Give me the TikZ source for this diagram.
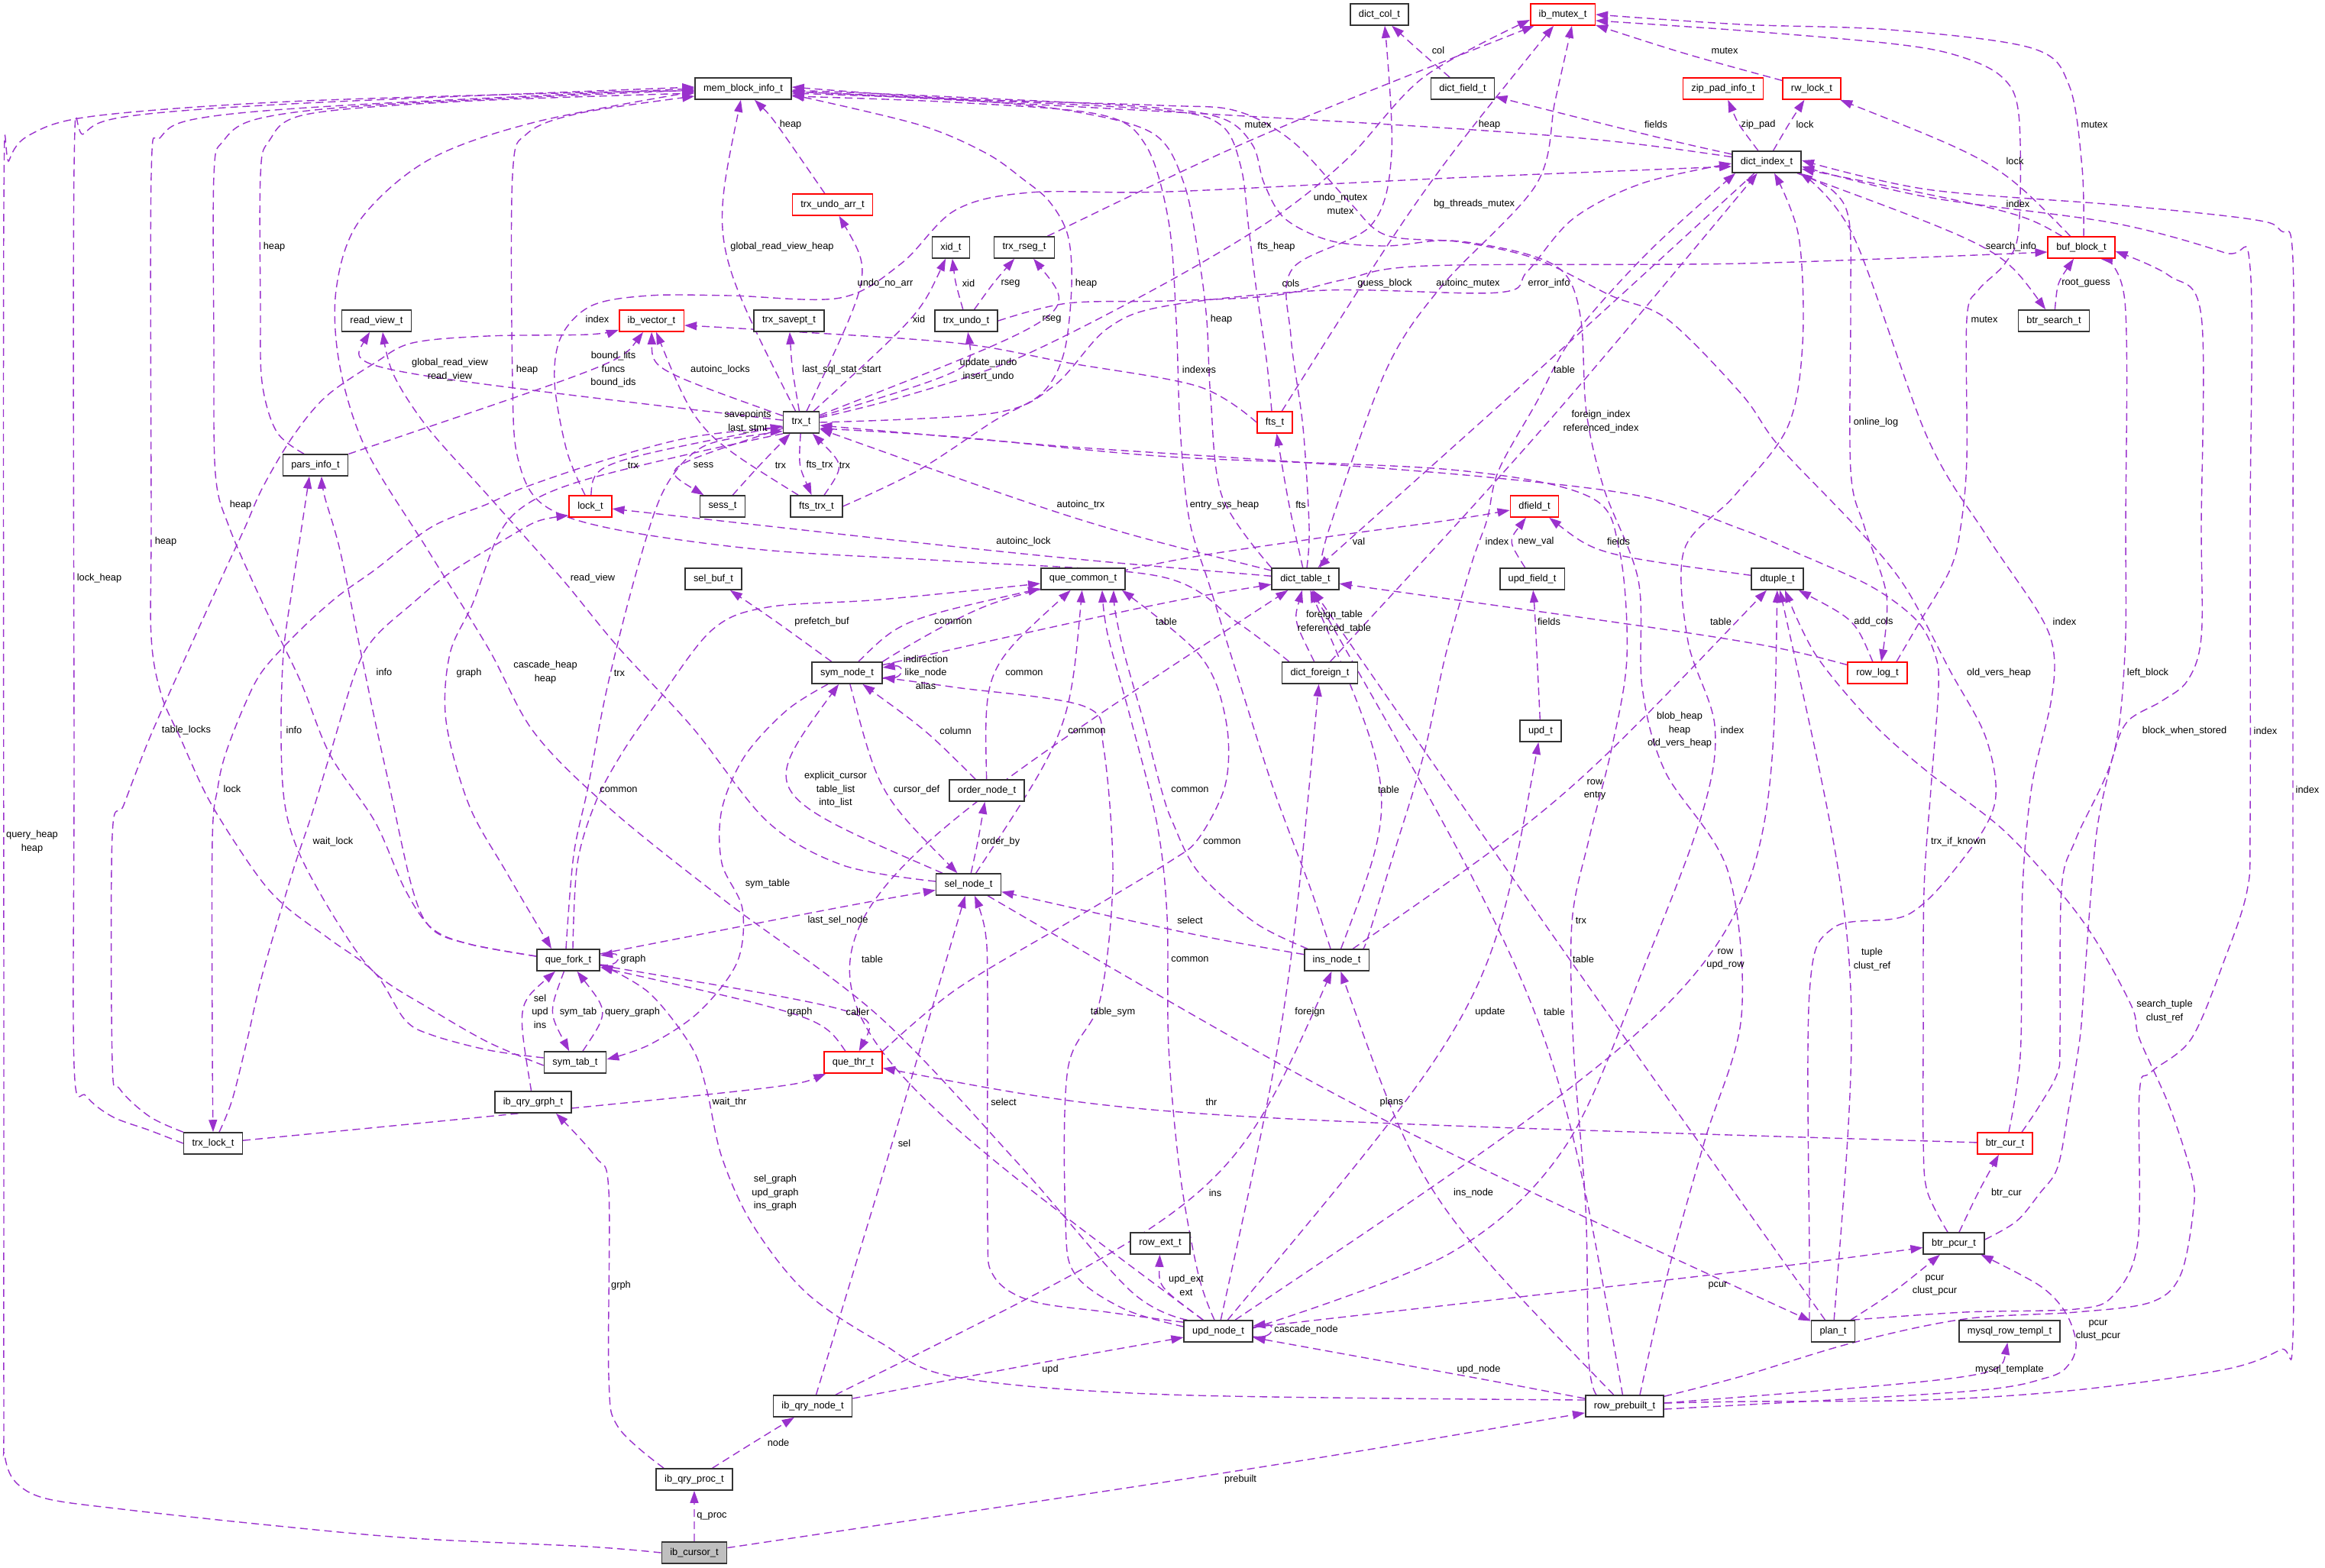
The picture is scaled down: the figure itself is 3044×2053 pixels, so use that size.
\documentclass[tikz,border=0pt]{standalone}
\usepackage{fontspec}
\setmainfont{Liberation Sans}
\usetikzlibrary{arrows.meta,calc}
\definecolor{edgec}{RGB}{154,50,205}
\newcommand\lblf{\fontsize{12.8}{17.5}\selectfont}
\pgfdeclarelayer{bg}
\pgfsetlayers{bg,main}
\newcommand\EDGE[4][]{\draw[ed,#1] (#2) .. controls ($1.3333*(#4)-0.16667*(#2)-0.16667*(#3)$) .. (#3);}
\newcommand\ROUTE[2][]{\draw[ed,#1] plot[smooth,tension=0.55] coordinates {#2};}
\begin{document}
\begin{tikzpicture}[x=1pt,y=-1pt,
  box/.style={draw=black!80, fill=white, line width=1.6pt, minimum height=28pt, inner xsep=11pt, inner ysep=0pt, font=\lblf},
  rbox/.style={box, draw=red},
  lab/.style={font=\lblf, align=center, inner sep=0pt},
  ed/.style={draw=edgec, line width=1.4pt, dash pattern=on 10pt off 6pt, -{Triangle[length=16pt,width=11pt]}}]
\useasboundingbox (0,0) rectangle (3044,2053);
% ---------- nodes ----------
\node[box] (mem) at (973,116) {mem\_block\_info\_t};
\node[rbox] (undoarr) at (1090,268) {trx\_undo\_arr\_t};
\node[box] (xid) at (1245,324) {xid\_t};
\node[box] (rseg) at (1341,324) {trx\_rseg\_t};
\node[box] (readview) at (493,420) {read\_view\_t};
\node[box] (parsinfo) at (413,609) {pars\_info\_t};
\node[rbox] (lock) at (773,663) {lock\_t};
\node[rbox] (ibvec) at (853,420) {ib\_vector\_t};
\node[box] (savept) at (1033,420) {trx\_savept\_t};
\node[box] (trxundo) at (1265,420) {trx\_undo\_t};
\node[box] (trx) at (1049,553) {trx\_t};
\node[box] (sess) at (946,663) {sess\_t};
\node[box] (ftstrx) at (1069,663) {fts\_trx\_t};
\node[box] (dictcol) at (1806,19) {dict\_col\_t};
\node[rbox] (mutex) at (2046,19) {ib\_mutex\_t};
\node[box] (dictfield) at (1915,116) {dict\_field\_t};
\node[rbox] (zippad) at (2256,116) {zip\_pad\_info\_t};
\node[box] (dictindex) at (2313,212) {dict\_index\_t};
\node[rbox] (fts) at (1669,553) {fts\_t};
\node[rbox] (dfield) at (2009,663) {dfield\_t};
\node[rbox] (rwlock) at (2372,116) {rw\_lock\_t};
\node[rbox] (bufblock) at (2725,324) {buf\_block\_t};
\node[box] (btrsearch) at (2689,420) {btr\_search\_t};
\node[box] (selbuf) at (934,758) {sel\_buf\_t};
\node[box] (quecommon) at (1418,758) {que\_common\_t};
\node[box] (symnode) at (1109,881) {sym\_node\_t};
\node[box] (ordernode) at (1292,1035) {order\_node\_t};
\node[box] (selnode) at (1268,1158) {sel\_node\_t};
\node[box] (quefork) at (744,1257) {que\_fork\_t};
\node[box] (dicttable) at (1709,758) {dict\_table\_t};
\node[box] (updfield) at (2006,758) {upd\_field\_t};
\node[box] (dictforeign) at (1728,881) {dict\_foreign\_t};
\node[box] (updt) at (2017,957) {upd\_t};
\node[box] (insnode) at (1750,1257) {ins\_node\_t};
\node[box] (dtuple) at (2327,758) {dtuple\_t};
\node[rbox] (rowlog) at (2458,881) {row\_log\_t};
\node[box] (symtab) at (753,1391) {sym\_tab\_t};
\node[box] (qrygrph) at (698,1443) {ib\_qry\_grph\_t};
\node[box] (trxlock) at (279,1497) {trx\_lock\_t};
\node[rbox] (quethr) at (1117,1391) {que\_thr\_t};
\node[box] (qrynode) at (1064,1841) {ib\_qry\_node\_t};
\node[box] (qryproc) at (909,1937) {ib\_qry\_proc\_t};
\node[box,fill=gray!50] (cursor) at (909,2033) {ib\_cursor\_t};
\node[box] (rowext) at (1519,1628) {row\_ext\_t};
\node[box] (updnode) at (1595,1743) {upd\_node\_t};
\node[box] (prebuilt) at (2127,1841) {row\_prebuilt\_t};
\node[rbox] (btrcur) at (2625,1497) {btr\_cur\_t};
\node[box] (btrpcur) at (2558,1628) {btr\_pcur\_t};
\node[box] (plan) at (2400,1743) {plan\_t};
\node[box] (mysqltempl) at (2631,1743) {mysql\_row\_templ\_t};
% ---------- labels ----------
\node[lab] (L1) at (359,323) {heap};
\node[lab] (L2) at (589,484) {global\_read\_view\\read\_view};
\node[lab] (L3) at (690,484) {heap};
\node[lab] (L4) at (315,661) {heap};
\node[lab] (L5) at (782,418) {index};
\node[lab] (L6) at (1035,163) {heap};
\node[lab] (L7) at (1024,323) {global\_read\_view\_heap};
\node[lab] (L8) at (1159,371) {undo\_no\_arr};
\node[lab] (L9) at (1268,371) {xid};
\node[lab] (L10) at (1323,371) {rseg};
\node[lab] (L11) at (1422,371) {heap};
\node[lab] (L12) at (1203,418) {xid};
\node[lab] (L13) at (1377,418) {rseg};
\node[lab] (L14) at (803,484) {bound\_lits\\funcs\\bound\_ids};
\node[lab] (L15) at (943,484) {autoinc\_locks};
\node[lab] (L16) at (1102,484) {last\_sql\_stat\_start};
\node[lab] (L17) at (1294,484) {update\_undo\\insert\_undo};
\node[lab] (L18) at (979,552) {savepoints\\last\_stmt};
\node[lab] (L19) at (829,609) {trx};
\node[lab] (L20) at (921,609) {sess};
\node[lab] (L21) at (1022,609) {trx};
\node[lab] (L22) at (1073,609) {fts\_trx};
\node[lab] (L23) at (1106,609) {trx};
\node[lab] (L24) at (1415,661) {autoinc\_trx};
\node[lab] (L25) at (1883,66) {col};
\node[lab] (L26) at (2258,66) {mutex};
\node[lab] (L27) at (1647,163) {mutex};
\node[lab] (L28) at (1950,163) {heap};
\node[lab] (L29) at (2168,163) {fields};
\node[lab] (L30) at (2302,163) {zip\_pad};
\node[lab] (L31) at (1755,267) {undo\_mutex\\mutex};
\node[lab] (L32) at (1930,267) {bg\_threads\_mutex};
\node[lab] (L33) at (1671,323) {fts\_heap};
\node[lab] (L34) at (1690,371) {cols};
\node[lab] (L35) at (1813,371) {guess\_block};
\node[lab] (L36) at (1922,371) {autoinc\_mutex};
\node[lab] (L37) at (2028,371) {error\_info};
\node[lab] (L38) at (1599,418) {heap};
\node[lab] (L39) at (1570,484) {indexes};
\node[lab] (L40) at (2048,484) {table};
\node[lab] (L41) at (2096,552) {foreign\_index\\referenced\_index};
\node[lab] (L42) at (1603,661) {entry\_sys\_heap};
\node[lab] (L43) at (1703,661) {fts};
\node[lab] (L44) at (2363,163) {lock};
\node[lab] (L45) at (2742,163) {mutex};
\node[lab] (L46) at (2638,211) {lock};
\node[lab] (L47) at (2642,267) {index};
\node[lab] (L48) at (2633,323) {search\_info};
\node[lab] (L49) at (2731,371) {root\_guess};
\node[lab] (L50) at (2598,418) {mutex};
\node[lab] (L51) at (2456,553) {online\_log};
\node[lab] (L52) at (217,709) {heap};
\node[lab] (L53) at (130,757) {lock\_heap};
\node[lab] (L54) at (503,880) {info};
\node[lab] (L55) at (614,881) {graph};
\node[lab] (L56) at (714,880) {cascade\_heap\\heap};
\node[lab] (L57) at (244,956) {table\_locks};
\node[lab] (L58) at (385,956) {info};
\node[lab] (L59) at (304,1033) {lock};
\node[lab] (L60) at (42,1102) {query\_heap\\heap};
\node[lab] (L61) at (436,1102) {wait\_lock};
\node[lab] (L62) at (707,1324) {sel\\upd\\ins};
\node[lab] (L63) at (757,1325) {sym\_tab};
\node[lab] (L64) at (776,757) {read\_view};
\node[lab] (L65) at (1340,709) {autoinc\_lock};
\node[lab] (L66) at (1076,814) {prefetch\_buf};
\node[lab] (L67) at (1248,814) {common};
\node[lab] (L68) at (1212,880) {indirection\\like\_node\\alias};
\node[lab] (L69) at (811,881) {trx};
\node[lab] (L70) at (1341,881) {common};
\node[lab] (L71) at (1251,957) {column};
\node[lab] (L72) at (1423,957) {common};
\node[lab] (L73) at (810,1034) {common};
\node[lab] (L74) at (1094,1034) {explicit\_cursor\\table\_list\\into\_list};
\node[lab] (L75) at (1200,1034) {cursor\_def};
\node[lab] (L76) at (1310,1102) {order\_by};
\node[lab] (L77) at (1005,1157) {sym\_table};
\node[lab] (L78) at (1097,1205) {last\_sel\_node};
\node[lab] (L79) at (829,1256) {graph};
\node[lab] (L80) at (1047,1325) {graph};
\node[lab] (L81) at (1123,1325) {caller};
\node[lab] (L82) at (828,1325) {query\_graph};
\node[lab] (L83) at (1142,1256) {table};
\node[lab] (L84) at (1457,1325) {table\_sym};
\node[lab] (L85) at (1527,814) {table};
\node[lab] (L86) at (1779,709) {val};
\node[lab] (L87) at (1960,709) {index};
\node[lab] (L88) at (2011,709) {new\_val};
\node[lab] (L89) at (2119,709) {fields};
\node[lab] (L90) at (1747,814) {foreign\_table\\referenced\_table};
\node[lab] (L91) at (2028,814) {fields};
\node[lab] (L92) at (2253,814) {table};
\node[lab] (L93) at (2199,956) {blob\_heap\\heap\\old\_vers\_heap};
\node[lab] (L94) at (2268,956) {index};
\node[lab] (L95) at (1818,1034) {table};
\node[lab] (L96) at (2088,1034) {row\\entry};
\node[lab] (L97) at (1558,1034) {common};
\node[lab] (L98) at (1600,1102) {common};
\node[lab] (L99) at (1558,1205) {select};
\node[lab] (L100) at (2070,1205) {trx};
\node[lab] (L101) at (1558,1256) {common};
\node[lab] (L102) at (2073,1256) {table};
\node[lab] (L103) at (2259,1256) {row\\upd\_row};
\node[lab] (L104) at (1715,1325) {foreign};
\node[lab] (L105) at (1951,1325) {update};
\node[lab] (L106) at (2035,1325) {table};
\node[lab] (L107) at (2453,814) {add\_cols};
\node[lab] (L108) at (2703,814) {index};
\node[lab] (L109) at (2617,881) {old\_vers\_heap};
\node[lab] (L110) at (2812,881) {left\_block};
\node[lab] (L111) at (2860,957) {block\_when\_stored};
\node[lab] (L112) at (2966,957) {index};
\node[lab] (L113) at (3021,1034) {index};
\node[lab] (L114) at (2564,1102) {trx\_if\_known};
\node[lab] (L115) at (2451,1256) {tuple\\clust\_ref};
\node[lab] (L116) at (2834,1324) {search\_tuple\\clust\_ref};
\node[lab] (L117) at (955,1443) {wait\_thr};
\node[lab] (L118) at (1314,1443) {select};
\node[lab] (L119) at (1184,1497) {sel};
\node[lab] (L120) at (1015,1562) {sel\_graph\\upd\_graph\\ins\_graph};
\node[lab] (L121) at (813,1683) {grph};
\node[lab] (L122) at (1375,1793) {upd};
\node[lab] (L123) at (1019,1889) {node};
\node[lab] (L124) at (932,1985) {q\_proc};
\node[lab] (L125) at (1586,1443) {thr};
\node[lab] (L126) at (1822,1443) {plans};
\node[lab] (L127) at (1591,1562) {ins};
\node[lab] (L128) at (1929,1562) {ins\_node};
\node[lab] (L129) at (2249,1683) {pcur};
\node[lab] (L130) at (1553,1683) {upd\_ext\\ext};
\node[lab] (L131) at (1710,1741) {cascade\_node};
\node[lab] (L132) at (1936,1793) {upd\_node};
\node[lab] (L133) at (1624,1937) {prebuilt};
\node[lab] (L134) at (2627,1562) {btr\_cur};
\node[lab] (L135) at (2533,1683) {pcur\\clust\_pcur};
\node[lab] (L136) at (2747,1742) {pcur\\clust\_pcur};
\node[lab] (L137) at (2631,1793) {mysql\_template};
% ---------- edges ----------
\begin{pgfonlayer}{bg}
\fill[white] (0,0) rectangle (3044,2053);
% long routed edges
\ROUTE{($(parsinfo.north)+(-15,0)$) (362,565) (343,500) (341,400) (341,230) (352,185) (400,150) (600,133) ($(mem.west)+(0,6)$)}
\ROUTE{($(dictforeign.north west)+(10,0)$) (1620,815) (1520,755) (1250,735) (1000,720) (800,692) (710,660) (678,600) (671,500) (671,230) (690,175) (760,148) ($(mem.west)+(0,10)$)}
\ROUTE{($(quefork.west)+(0,-5)$) (614,1236) (565,1215) (530,1164) (491,1076) (432,988) (393,891) (344,790) (300,690) (282,620) (280,450) (280,230) (292,185) (340,155) (500,137) ($(mem.west)+(0,2)$)}
\ROUTE{($(lock.north)+(-7,0)$) (742,590) (726,500) (735,440) (775,400) (850,387) (956,387) (1100,390) (1180,345) (1251,275) (1349,252) (1530,251) (1900,233) ($(dictindex.west)+(0,6)$)}
\ROUTE{(ftstrx.east) (1202,616) (1300,552) (1364,515) (1393,462) (1403,374) (1398,308) (1374,264) (1340,235) (1290,200) (1202,163) ($(mem.east)+(0,8)$)}
\ROUTE{($(trx.east)+(0,-6)$) (1180,520) (1330,470) (1520,374) (1667,286) (1765,207) (1864,101) ($(mutex.west)+(0,7)$)}
\ROUTE{($(fts.north)+(-4,0)$) (1658,470) (1645,380) (1635,300) (1625,220) (1600,165) (1530,145) (1300,132) ($(mem.east)+(0,6)$)}
\ROUTE{($(dicttable.north)+(2,0)$) (1714,690) (1706,560) (1690,440) (1692,352) (1795,295) (1822,200) ($(dictcol.south)+(7,0)$)}
\ROUTE{(trxundo.east) (1398,397) (1530,394) (1667,387) (1760,366) (1870,348) (2280,345) ($(bufblock.west)+(0,6)$)}
\ROUTE{($(dicttable.north)+(20,0)$) (1741,690) (1815,484) (1888,374) (2011,242) (2036,132) ($(mutex.south)+(12,0)$)}
\ROUTE{($(trx.east)+(0,0)$) (1300,541) (1380,505) (1450,430) (1530,400) (1736,380) (1962,383) (2000,355) (2060,286) (2150,240) ($(dictindex.west)+(0,2)$)}
\ROUTE{(dicttable.north west) (1600,650) (1585,520) (1580,420) (1570,340) (1550,240) (1510,175) (1400,145) (1250,130) ($(mem.east)+(0,4)$)}
\ROUTE{(fts.west) (1569,506) (1398,475) (1251,449) (1000,432) ($(ibvec.east)+(0,6)$)}
\ROUTE{($(insnode.north)+(-8,0)$) (1716,1164) (1667,1032) (1618,878) (1584,768) (1557,680) (1545,560) (1540,420) (1530,290) (1500,190) (1440,150) (1250,134) ($(mem.east)+(0,10)$)}
\ROUTE{($(bufblock.north)+(3,0)$) (2726,220) (2709,112) (2660,63) (2475,39) (2280,32) (mutex.east)}
\ROUTE{($(rowlog.north)+(25,0)$) (2510,820) (2553,746) (2567,690) (2575,600) (2575,418) (2590,380) (2625,345) (2643,300) (2643,150) (2620,100) (2560,72) (2475,57) (2280,40) ($(mutex.east)+(0,8)$)}
\ROUTE{($(dictindex.south east)+(-5,0)$) (2400,250) (2421,290) (2423,400) (2423,616) (2441,690) (2470,780) ($(rowlog.north)+(5,0)$)}
\ROUTE{($(symtab.west)+(0,-6)$) (640,1375) (565,1355) (530,1335) (491,1274) (432,1230) (373,1186) (334,1142) (275,1050) (236,966) (211,909) (198,834) (198,680) (198,230) (210,180) (260,155) (450,138) (mem.west)}
\ROUTE{(trxlock.west) (196,1480) (147,1462) (113,1435) (97,1395) (97,1000) (97,220) (110,175) (170,152) (400,135) ($(mem.west)+(0,-2)$)}
\ROUTE{($(updnode.north west)+(5,0)$) (1480,1690) (1330,1520) (1150,1330) (950,1180) (800,1060) (700,960) (640,850) (560,720) (480,590) (445,480) (440,380) (470,290) (560,210) (700,160) ($(mem.west)+(0,4)$)}
\ROUTE{(trxlock.north west) (196,1462) (157,1426) (147,1390) (147,1094) (162,1054) (196,966) (245,856) (295,746) (321,690) (344,638) (383,572) (427,519) (491,475) (540,449) (638,440) (770,438) ($(ibvec.south west)+(0,-3)$)}
\ROUTE{($(symtab.west)+(0,4)$) (640,1365) (565,1322) (491,1274) (442,1208) (393,1120) (373,1054) (368,966) (371,856) (383,768) (395,690) ($(parsinfo.south)+(-8,0)$)}
\ROUTE{($(trx.west)+(0,6)$) (907,572) (800,600) (687,638) (638,660) (565,690) (491,746) (442,781) (393,825) (344,878) (319,926) (295,988) (285,1032) (278,1100) (278,1370) (trxlock.north)}
\ROUTE{(cursor.west) (770,2025) (540,2014) (344,1996) (160,1976) (60,1962) (20,1940) (6,1905) (5,1850) (5,1360) (5,270) (12,210) (40,176) (123,152) (378,133) (770,121) ($(mem.west)+(0,3)$)}
\ROUTE{($(trxlock.north)+(8,0)$) (304,1440) (324,1360) (344,1274) (383,1142) (408,1067) (432,988) (466,878) (491,834) (540,790) (589,750) (668,702) (705,682) ($(lock.south west)+(0,-3)$)}
\ROUTE{($(quefork.west)+(0,-5)$) (614,1236) (565,1216) (540,1164) (510,1030) (491,944) (471,847) (445,720) (425,650) ($(parsinfo.south)+(8,0)$)}
\ROUTE{(trx.south west) (900,595) (760,630) (690,660) (653,700) (619,790) (589,856) (584,944) (614,1054) (663,1142) ($(quefork.north)+(-22,0)$)}
\ROUTE{($(selnode.west)+(0,-4)$) (1104,1133) (1005,1076) (907,953) (809,847) (735,757) (640,650) (560,560) (515,490) ($(readview.south)+(8,0)$)}
\ROUTE{($(quefork.north)+(-3,0)$) (751,1120) (770,1030) (795,900) (834,746) (870,640) (920,585) (1000,568) ($(trx.south west)+(0,-3)$)}
\ROUTE{($(quefork.north)+(6,0)$) (756,1130) (780,1050) (815,985) (860,920) (932,825) (1005,795) (1153,785) ($(quecommon.west)+(0,6)$)}
\ROUTE{($(symnode.south)+(-25,0)$) (1030,930) (975,990) (945,1060) (945,1130) (972,1190) (965,1260) (915,1325) (850,1368) ($(symtab.east)+(0,-4)$)}
\ROUTE{($(updnode.west)+(0,-6)$) (1472,1714) (1408,1669) (1395,1600) (1398,1400) (1440,1310) (1457,1150) (1445,980) (1420,925) (1251,900) ($(symnode.east)+(0,6)$)}
\ROUTE{(symnode.north east) (1300,790) (1520,737) (1716,706) (1898,681) ($(dfield.west)+(0,5)$)}
\ROUTE{($(insnode.north east)+(-10,0)$) (1790,1230) (1824,1120) (1864,988) (1893,856) (1927,737) (1947,680) (1962,616) (2011,528) (2060,440) (2158,330) ($(dictindex.south west)+(5,0)$)}
\ROUTE{($(prebuilt.north)+(20,0)$) (2183,1669) (2232,1493) (2280,1330) (2262,1140) (2180,1010) (2150,900) (2145,760) (2100,640) (2077,540) (2070,420) (2050,360) (2000,333) (1900,315) (1815,322) (1741,315) (1682,286) (1655,240) (1640,190) (1600,155) (1500,140) (1250,127) ($(mem.east)+(0,2)$)}
\ROUTE{($(updnode.east)+(0,-4)$) (1900,1640) (2050,1500) (2158,1252) (2230,1060) (2245,950) (2210,840) (2205,720) (2270,650) (2340,560) (2360,450) (2355,310) ($(dictindex.south)+(10,0)$)}
\ROUTE{(quethr.north east) (1251,1296) (1398,1208) (1530,1129) (1569,1098) (1603,1032) (1608,966) (1594,900) (1569,856) (1520,812) ($(quecommon.south east)+(-5,0)$)}
\ROUTE{($(insnode.north west)+(5,0)$) (1643,1208) (1569,1142) (1535,1076) (1520,1032) (1497,944) (1472,856) (1460,800) ($(quecommon.south)+(40,0)$)}
\ROUTE{($(prebuilt.north west)+(15,0)$) (2080,1780) (2076,1581) (2060,1370) (2058,1208) (2080,1100) (2110,980) (2130,860) (2120,720) (2080,650) (1900,615) (1530,598) (1251,572) ($(trx.east)+(0,8)$)}
\ROUTE{($(updnode.north)+(-5,0)$) (1569,1669) (1545,1537) (1530,1370) (1528,1200) (1515,1080) (1480,940) (1450,830) ($(quecommon.south)+(25,0)$)}
\ROUTE{($(btrcur.north)+(5,0)$) (2640,1426) (2646,1360) (2648,1164) (2660,1030) (2685,920) (2689,856) (2670,804) (2600,700) (2523,572) (2426,308) ($(dictindex.south east)+(-2,0)$)}
\ROUTE{($(plan.north)+(-31,0)$) (2369,1650) (2369,1300) (2400,1215) (2499,1197) (2572,1122) (2612,1050) (2600,966) (2553,878) (2494,768) (2430,690) (2329,584) (2280,516) (2183,418) (2109,387) (2011,339) (1913,317) (1815,308) (1766,264) (1692,185) (1618,145) (1520,138) (1250,129) ($(mem.east)+(0,-2)$)}
\ROUTE{($(btrcur.north east)+(-15,0)$) (2670,1448) (2694,1404) (2697,1360) (2699,1164) (2718,1098) (2767,988) (2782,856) (2783,690) (2782,395) ($(bufblock.south)+(25,0)$)}
\ROUTE{($(btrpcur.east)+(0,-5)$) (2640,1599) (2670,1563) (2694,1528) (2709,1448) (2723,1360) (2728,1298) (2738,1164) (2747,1076) (2767,988) (2786,944) (2830,918) (2864,891) (2882,834) (2882,690) (2882,414) (2840,361) ($(bufblock.east)+(0,5)$)}
\ROUTE{($(plan.north east)+(-4,0)$) (2572,1718) (2718,1714) (2767,1696) (2799,1625) (2801,1431) (2816,1404) (2869,1360) (2913,1255) (2942,1166) (2946,1076) (2946,690) (2946,351) (2913,331) (2767,292) (2523,258) ($(dictindex.east)+(0,6)$)}
\ROUTE{($(prebuilt.east)+(0,-4)$) (2290,1835) (2523,1833) (2718,1820) (2913,1793) (2986,1767) (3002,1749) (3002,1360) (3002,690) (3002,341) (2986,302) (2947,287) (2767,268) (2523,248) ($(dictindex.east)+(0,-2)$)}
\ROUTE{($(btrpcur.north)+(-8,0)$) (2523,1559) (2518,1493) (2518,1360) (2519,1166) (2528,1033) (2538,900) (2533,856) (2509,812) (2450,768) (2353,724) (2280,693) (2150,650) (1950,625) (1700,605) (1400,585) (1200,568) ($(trx.east)+(0,4)$)}
\ROUTE{($(prebuilt.north east)+(0,2)$) (2280,1802) (2426,1758) (2572,1727) (2718,1718) (2816,1705) (2855,1669) (2872,1581) (2869,1537) (2840,1448) (2801,1360) (2791,1318) (2743,1230) (2694,1164) (2621,1085) (2523,1010) (2450,945) (2377,857) ($(dtuple.south)+(10,0)$)}
\ROUTE{($(updnode.north west)+(0,3)$) (1450,1718) (1349,1703) (1300,1669) (1293,1600) (1293,1300) (1290,1220) ($(selnode.south)+(8,0)$)}
\ROUTE{($(prebuilt.west)+(0,-8)$) (1530,1826) (1251,1803) (1153,1758) (1055,1692) (985,1603) (945,1515) (925,1426) (905,1370) (850,1300) ($(quefork.east)+(0,6)$)}
\ROUTE{($(qryproc.north)+(-40,0)$) (809,1868) (797,1802) (797,1559) (780,1515) ($(qrygrph.south)+(30,0)$)}
\ROUTE{($(prebuilt.east)+(0,4)$) (2572,1822) (2679,1804) (2709,1786) (2718,1758) (2704,1718) (2670,1683) ($(btrpcur.south east)+(-5,0)$)}
% self loops
\draw[ed] ($(symnode.east)+(0,7)$) .. controls +(30,4) and +(30,-4) .. ($(symnode.east)+(0,-7)$);
\draw[ed] ($(quefork.east)+(0,6)$) .. controls +(28,4) and +(28,-4) .. ($(quefork.east)+(0,-6)$);
\draw[ed] ($(updnode.east)+(0,7)$) .. controls +(30,4) and +(30,-4) .. ($(updnode.east)+(0,-7)$);
% simple edges
\EDGE{trx}{readview}{534,484}
\EDGE{undoarr}{mem}{1016,163}
\EDGE{trx}{mem}{951,323}
\EDGE{trx}{undoarr}{1124,371}
\EDGE{trxundo}{xid}{1252,371}
\EDGE{trxundo}{rseg}{1301,371}
\EDGE{trx}{xid}{1190,418}
\EDGE{trx}{rseg}{1358,418}
\EDGE{parsinfo}{ibvec}{768,484}
\EDGE{trx}{ibvec}{878,484}
\EDGE{trx}{savept}{1038,484}
\EDGE{trx}{trxundo}{1245,484}
\EDGE{ftstrx}{ibvec}{925,560}
\EDGE{lock}{trx}{810,607}
\EDGE{trx}{sess}{897,612}
\EDGE{sess}{trx}{995,609}
\EDGE{trx}{ftstrx}{1049,609}
\EDGE{ftstrx}{trx}{1094,609}
\EDGE{dicttable}{trx}{1415,680}
\EDGE{dictfield}{dictcol}{1858,66}
\EDGE{rwlock}{mutex}{2207,70}
\EDGE{rseg}{mutex}{1647,180}
\EDGE{dictindex}{mem}{1950,172}
\EDGE{dictindex}{dictfield}{2168,179}
\EDGE{dictindex}{zippad}{2278,163}
\EDGE{fts}{mutex}{1860,258}
\EDGE{dictindex}{dicttable}{2015,484}
\EDGE{dictforeign}{dictindex}{2020,560}
\EDGE{dicttable}{fts}{1688,661}
\EDGE{dictindex}{rwlock}{2342,163}
\EDGE{bufblock}{rwlock}{2600,215}
\EDGE{bufblock}{dictindex}{2615,276}
\EDGE{dictindex}{btrsearch}{2590,323}
\EDGE{btrsearch}{bufblock}{2697,371}
\EDGE{qrygrph}{quefork}{688,1324}
\EDGE{quefork}{symtab}{726,1325}
\EDGE{dicttable}{lock}{1340,725}
\EDGE{symnode}{selbuf}{1016,814}
\EDGE{symnode}{quecommon}{1200,814}
\EDGE{ordernode}{quecommon}{1305,881}
\EDGE{ordernode}{symnode}{1210,957}
\EDGE{selnode}{quecommon}{1386,957}
\EDGE{selnode}{symnode}{1042,1034}
\EDGE{symnode}{selnode}{1160,1034}
\EDGE{selnode}{ordernode}{1280,1102}
\EDGE{quefork}{selnode}{1090,1190}
\EDGE{quethr}{quefork}{1040,1330}
\EDGE{quefork}{quethr}{1096,1325}
\EDGE{symtab}{quefork}{785,1325}
\EDGE{updnode}{dicttable}{1120,1256}
\EDGE{symnode}{dicttable}{1500,795}
\EDGE{updfield}{dfield}{1983,709}
\EDGE{dtuple}{dfield}{2110,722}
\EDGE{dictforeign}{dicttable}{1700,814}
\EDGE{updt}{updfield}{2010,814}
\EDGE{rowlog}{dicttable}{2253,836}
\EDGE{insnode}{dicttable}{1806,1034}
\EDGE{insnode}{dtuple}{2045,1040}
\EDGE{insnode}{selnode}{1558,1222}
\EDGE{plan}{dicttable}{2055,1256}
\EDGE{updnode}{dtuple}{2230,1256}
\EDGE{updnode}{dictforeign}{1680,1325}
\EDGE{updnode}{updt}{1915,1325}
\EDGE{prebuilt}{dicttable}{2008,1325}
\EDGE{rowlog}{dtuple}{2420,814}
\EDGE{plan}{dtuple}{2420,1256}
\EDGE{trxlock}{quethr}{955,1428}
\EDGE{qrynode}{selnode}{1168,1497}
\EDGE{qrynode}{updnode}{1360,1785}
\EDGE{qryproc}{qrynode}{986,1889}
\EDGE{cursor}{qryproc}{909,1985}
\EDGE{btrcur}{quethr}{1586,1458}
\EDGE{selnode}{plan}{1805,1462}
\EDGE{qrynode}{insnode}{1560,1565}
\EDGE{prebuilt}{insnode}{1880,1562}
\EDGE{updnode}{btrpcur}{2249,1668}
\EDGE{updnode}{rowext}{1527,1685}
\EDGE{prebuilt}{updnode}{1936,1805}
\EDGE{cursor}{prebuilt}{1624,1925}
\EDGE{btrpcur}{btrcur}{2590,1562}
\EDGE{plan}{btrpcur}{2480,1690}
\EDGE{prebuilt}{mysqltempl}{2560,1800}
\end{pgfonlayer}
\end{tikzpicture}
\end{document}
